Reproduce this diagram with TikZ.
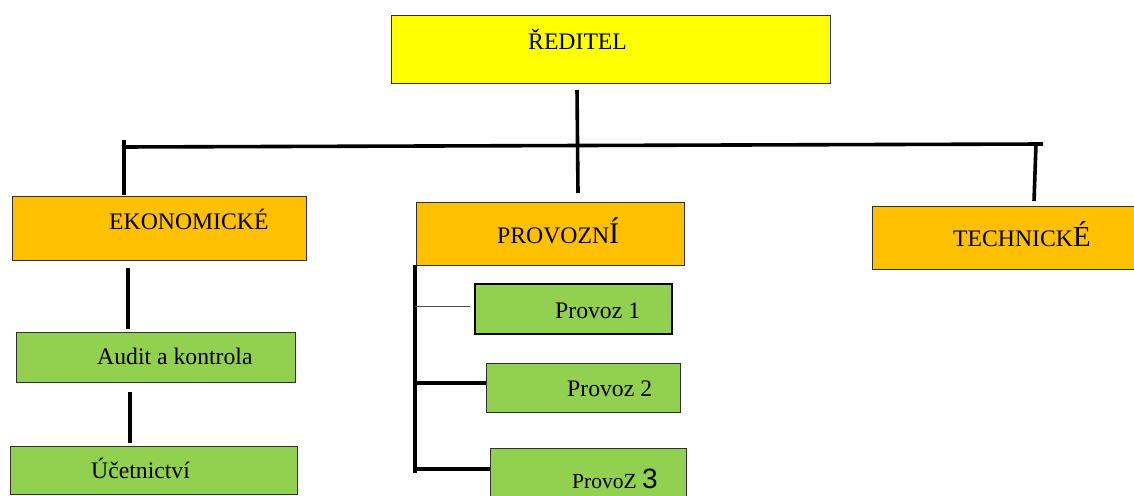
\documentclass[tikz,border=0pt]{standalone}
\usepackage{fontspec}
\setmainfont{Liberation Serif}
\newfontfamily\sansf{Liberation Sans}
\definecolor{cyellow}{HTML}{FFFF00}
\definecolor{corange}{HTML}{FFC000}
\definecolor{cgreen}{HTML}{92D050}
\definecolor{cborder}{HTML}{303030}
\tikzset{
  boxbase/.style={draw=cborder, line width=1.1pt, inner sep=0pt, anchor=north west},
  topbox/.style={boxbase, fill=cyellow},
  deptbox/.style={boxbase, fill=corange},
  subbox/.style={boxbase, fill=cgreen},
  txt/.style={inner sep=0pt, anchor=base west, font=\fontsize{23.7}{26}\selectfont},
  conn/.style={line width=3.6pt, black},
  thinconn/.style={line width=1pt, black!70}
}
\begin{document}
\begin{tikzpicture}[x=1pt,y=-1pt]
\useasboundingbox (0,0) rectangle (1134,495);
\begin{scope}
\clip (0,0) rectangle (1134,495);
% boxes
\node[topbox, minimum width=439pt, minimum height=68pt] (red) at (391,15) {};
\node[deptbox, minimum width=294pt, minimum height=64pt] (ek) at (12,196) {};
\node[deptbox, minimum width=268pt, minimum height=63pt] (prov) at (416,202) {};
\node[deptbox, minimum width=275pt, minimum height=63pt] (tech) at (872,206) {};
\node[subbox, minimum width=279pt, minimum height=50pt] (audit) at (16,332) {};
\node[subbox, minimum width=287pt, minimum height=48pt] (ucet) at (10,446) {};
\node[subbox, line width=2.2pt, draw=black, minimum width=197pt, minimum height=50pt] (p1) at (474,283) {};
\node[subbox, minimum width=194pt, minimum height=49pt] (p2) at (486,363) {};
\node[subbox, minimum width=196pt, minimum height=55pt] (p3) at (490,448) {};
\end{scope}
% texts
\node[txt] (tred) at (528,49) {ŘEDITEL};
\node[txt] (tek) at (109,229) {EKONOMICKÉ};
\node[txt] (tprov) at (497,243) {PROVOZN{\fontsize{30}{32}\selectfont Í}};
\node[txt] (ttech) at (953,246) {TECHNICK{\fontsize{29}{32}\selectfont É}};
\node[txt] (taudit) at (97,364) {Audit a kontrola};
\node[txt] (tucet) at (91,478) {Účetnictví};
\node[txt] (tp1) at (555,318) {Provoz 1};
\node[txt] (tp2) at (567,396) {Provoz 2};
\node[txt, font=\fontsize{21.5}{24}\selectfont] (tp3) at (572,488) {ProvoZ {\sansf\fontsize{28}{30}\selectfont 3}};
% connector coordinates
\coordinate (redstemTop) at (577,90);
\coordinate (redstemBot) at (578,193);
\coordinate (busL) at (122,147);
\coordinate (busR) at (1043,144);
\coordinate (ekTop) at (124,140);
\coordinate (ekBot) at (124,195);
\coordinate (techTop) at (1036,144);
\coordinate (techBot) at (1034,201);
\coordinate (ekS) at (128,268);
\coordinate (auN) at (128,329);
\coordinate (auS) at (130,392);
\coordinate (ucN) at (130,443);
\coordinate (spTop) at (415,265);
\coordinate (spBot) at (415,473);
\coordinate (p1L) at (415,306);
\coordinate (p2L) at (415,383);
\coordinate (p3L) at (415,469);
% connectors
\draw[conn] (redstemTop) -- (redstemBot);
\draw[conn] (busL) -- (busR);
\draw[conn] (ekTop) -- (ekBot);
\draw[conn] (techTop) -- (techBot);
\draw[conn] (ekS) -- (auN);
\draw[conn] (auS) -- (ucN);
\draw[conn, line width=3.2pt] (spTop) -- (spBot);
\draw[thinconn] (p1L) -- ([xshift=-4pt]p1.west |- p1L);
\draw[conn, line width=3.2pt] (p2L) -- (p2.west |- p2L);
\draw[conn, line width=3.2pt] (p3L) -- (p3.west |- p3L);
\end{tikzpicture}
\end{document}
